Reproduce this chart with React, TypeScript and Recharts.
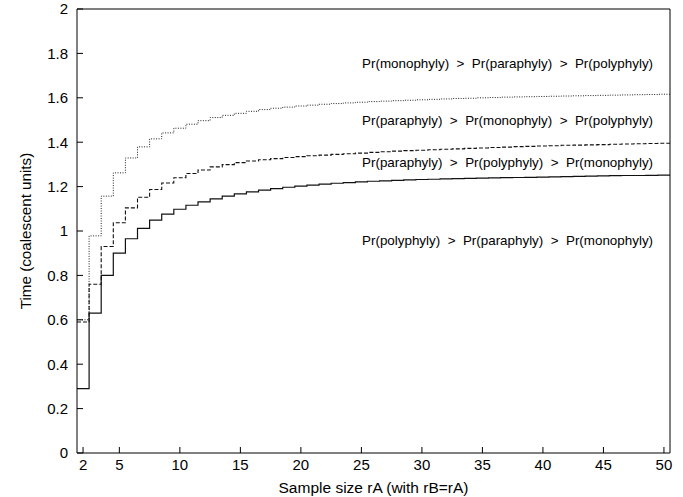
import React from 'react';
import {
  LineChart,
  Line,
  XAxis,
  YAxis,
  ReferenceDot,
  Label,
} from 'recharts';

// sample sizes rA (= rB)
const sampleSizes = [
  2, 3, 4, 5, 6, 7, 8, 9, 10, 11, 12, 13, 14, 15, 16, 17, 18, 19, 20, 21, 22, 23, 24, 25, 26,
  27, 28, 29, 30, 31, 32, 33, 34, 35, 36, 37, 38, 39, 40, 41, 42, 43, 44, 45, 46, 47, 48, 49, 50,
];

// solid: polyphyly most likely below this time
const solidTimes = [
  0.29, 0.63, 0.8, 0.9, 0.965, 1.012, 1.049, 1.076, 1.098, 1.116, 1.131, 1.145, 1.157, 1.167,
  1.176, 1.184, 1.191, 1.197, 1.202, 1.207, 1.211, 1.215, 1.218, 1.221, 1.224, 1.226, 1.228,
  1.23, 1.232, 1.233, 1.235, 1.236, 1.237, 1.238, 1.239, 1.24, 1.241, 1.242, 1.243, 1.244,
  1.245, 1.246, 1.247, 1.248, 1.249, 1.25, 1.25, 1.251, 1.252,
];

// dashed
const dashedTimes = [
  0.59, 0.76, 0.93, 1.037, 1.104, 1.152, 1.187, 1.216, 1.24, 1.259, 1.275, 1.289, 1.299, 1.308,
  1.315, 1.321, 1.326, 1.331, 1.335, 1.339, 1.342, 1.345, 1.348, 1.351, 1.354, 1.357, 1.36,
  1.362, 1.364, 1.366, 1.368, 1.37, 1.372, 1.374, 1.376, 1.378, 1.38, 1.381, 1.383, 1.384,
  1.386, 1.387, 1.388, 1.389, 1.391, 1.392, 1.393, 1.394, 1.395,
];

// dotted
const dottedTimes = [
  0.6, 0.978, 1.157, 1.262, 1.329, 1.379, 1.415, 1.442, 1.463, 1.481, 1.497, 1.511, 1.521,
  1.53, 1.539, 1.547, 1.553, 1.558, 1.563, 1.567, 1.571, 1.574, 1.577, 1.58, 1.583, 1.585,
  1.587, 1.589, 1.591, 1.593, 1.595, 1.597, 1.598, 1.6, 1.601, 1.603, 1.604, 1.605, 1.606,
  1.607, 1.608, 1.609, 1.61, 1.611, 1.612, 1.613, 1.614, 1.615, 1.616,
];

const xTicks = [2, 5, 10, 15, 20, 25, 30, 35, 40, 45, 50];
const yTicks = [0, 0.2, 0.4, 0.6, 0.8, 1, 1.2, 1.4, 1.6, 1.8, 2];

// region annotations: text, anchor sample size, anchor time
const regionLabels = [
  { text: 'Pr(monophyly)  >  Pr(paraphyly)  >  Pr(polyphyly)', r: 49.1, t: 1.756 },
  { text: 'Pr(paraphyly)  >  Pr(monophyly)  >  Pr(polyphyly)', r: 49.1, t: 1.499 },
  { text: 'Pr(paraphyly)  >  Pr(polyphyly)  >  Pr(monophyly)', r: 49.1, t: 1.307 },
  { text: 'Pr(polyphyly)  >  Pr(paraphyly)  >  Pr(monophyly)', r: 49.1, t: 0.955 },
];

interface Row {
  r: number;
  solid: number;
  dashed: number;
  dotted: number;
}

function buildRows(): Row[] {
  const rows: Row[] = sampleSizes.map((r, i) => ({
    r,
    solid: solidTimes[i],
    dashed: dashedTimes[i],
    dotted: dottedTimes[i],
  }));
  // histeps: each value covers r-0.5 .. r+0.5, so pad both ends of the table
  const first = rows[0];
  const last = rows[rows.length - 1];
  return [{ ...first, r: first.r - 0.5 }, ...rows, { ...last, r: last.r + 0.5 }];
}

const FONT = '"Liberation Sans", Arial, Helvetica, sans-serif';
const tickStyle = { fill: '#000', fontSize: 15, fontFamily: FONT };

export default function App(): React.ReactElement {
  const rows = buildRows();
  return (
    <div style={{ position: 'absolute', left: 0, top: 0, width: 683, height: 497, background: '#fff' }}>
      <LineChart
        width={683}
        height={497}
        data={rows}
        margin={{ top: 0, right: 0, bottom: 0, left: 0 }}
        style={{ fontFamily: FONT }}
      >
        <XAxis
          dataKey="r"
          type="number"
          domain={[1.5, 50.5]}
          ticks={xTicks}
          allowDataOverflow
          height={44}
          tick={tickStyle}
          tickSize={-6}
          tickMargin={12}
          stroke="#000"
          interval={0}
        >
          <Label
            value="Sample size rA (with rB=rA)"
            position="insideBottom"
            offset={4}
            style={{ fill: '#000', fontSize: 15.5, fontFamily: FONT }}
          />
        </XAxis>
        <XAxis
          xAxisId="top"
          orientation="top"
          dataKey="r"
          type="number"
          domain={[1.5, 50.5]}
          ticks={xTicks}
          allowDataOverflow
          height={9}
          tick={false}
          tickSize={-6}
          stroke="#000"
          interval={0}
        />
        <YAxis
          type="number"
          domain={[0, 2]}
          ticks={yTicks}
          width={77}
          tick={tickStyle}
          tickSize={-6}
          tickMargin={15}
          stroke="#000"
          interval={0}
        >
          <Label
            content={(props: any) => {
              const vb = props.viewBox || {};
              const cy = (vb.y ?? 0) + (vb.height ?? 0) / 2;
              return (
                <text
                  x={25}
                  y={cy}
                  transform={`rotate(-90, 25, ${cy})`}
                  textAnchor="middle"
                  dominantBaseline="central"
                  style={{ fill: '#000', fontSize: 15.2, fontFamily: FONT }}
                >
                  Time (coalescent units)
                </text>
              );
            }}
          />
        </YAxis>
        <YAxis
          yAxisId="right"
          orientation="right"
          type="number"
          domain={[0, 2]}
          ticks={yTicks}
          width={13}
          tick={false}
          tickSize={-6}
          stroke="#000"
          interval={0}
        />
        <Line
          type="step"
          dataKey="solid"
          stroke="#111"
          strokeWidth={1.2}
          dot={false}
          isAnimationActive={false}
        />
        <Line
          type="step"
          dataKey="dashed"
          stroke="#111"
          strokeWidth={1.1}
          strokeDasharray="4 2"
          dot={false}
          isAnimationActive={false}
        />
        <Line
          type="step"
          dataKey="dotted"
          stroke="#222"
          strokeWidth={1}
          strokeDasharray="1 1.5"
          dot={false}
          isAnimationActive={false}
        />
        {regionLabels.map((lab) => (
          <ReferenceDot
            key={lab.text}
            x={lab.r}
            y={lab.t}
            r={0}
            shape={(p: any) => (
              <text
                x={p.cx}
                y={p.cy}
                textAnchor="end"
                dominantBaseline="central"
                style={{ fill: '#000', fontSize: 13.4, fontFamily: FONT, whiteSpace: 'pre' }}
              >
                {lab.text}
              </text>
            )}
          />
        ))}
      </LineChart>
    </div>
  );
}
